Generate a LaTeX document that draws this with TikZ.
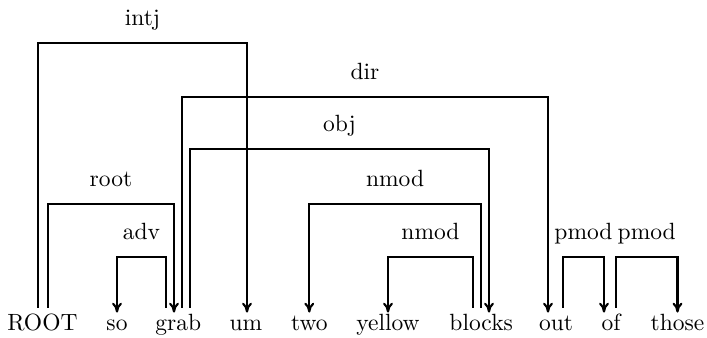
\documentclass[tikz,border=0pt]{standalone}
\usetikzlibrary{calc,arrows.meta}
\begin{document}
\begin{tikzpicture}[x=0.4255pt,y=-0.4255pt,
  word/.style={anchor=base,inner sep=0pt,text height=7pt,text depth=2pt},
  dep/.style={line width=0.9pt,-{To[length=4.2pt,width=4.2pt]}},
  lbl/.style={anchor=base,inner sep=0pt,yshift=7.2pt}]
\useasboundingbox (0,0) rectangle (707,338);
\node[word] (w0) at (42.4,331) {ROOT};
\node[word] (w1) at (117,331) {so};
\node[word] (w2) at (178.2,331) {grab};
\node[word] (w3) at (246,331) {um};
\node[word] (w4) at (309.3,331) {two};
\node[word] (w5) at (388,331) {yellow};
\node[word] (w6) at (481.2,331) {blocks};
\node[word] (w7) at (556,331) {out};
\node[word] (w8) at (611,331) {of};
\node[word] (w9) at (677.5,331) {those};
% intj
\draw[dep] ($(w0.north)+(-4.4,-6.5)$) -- ++(0,-265) -| ($(w3.north)+(1,-1.5)$) node[pos=0.25,lbl] {intj};
% dir
\draw[dep] ($(w2.north)+(3.8,-6.5)$) -- ++(0,-211) -| ($(w7.north)+(-8,-1.5)$) node[pos=0.25,lbl] {dir};
% obj
\draw[dep] ($(w2.north)+(11.8,-6.5)$) -- ++(0,-159) -| ($(w6.north)+(7.8,-1.5)$) node[pos=0.25,lbl] {obj};
% root
\draw[dep] ($(w0.north)+(5.6,-6.5)$) -- ++(0,-104) -| ($(w2.north)+(-4.2,-1.5)$) node[pos=0.25,lbl] {root};
% nmod outer
\draw[dep] ($(w6.north)+(-0.2,-6.5)$) -- ++(0,-104) -| ($(w4.north)+(0,-1.5)$) node[pos=0.25,lbl] {nmod};
% adv
\draw[dep] ($(w2.north)+(-12.2,-6.5)$) -- ++(0,-51) -| ($(w1.north)+(0,-1.5)$) node[pos=0.25,lbl] {adv};
% nmod inner
\draw[dep] ($(w6.north)+(-8.2,-6.5)$) -- ++(0,-51) -| ($(w5.north)+(0,-1.5)$) node[pos=0.25,lbl] {nmod};
% pmod out -> of
\draw[dep] ($(w7.north)+(7,-6.5)$) -- ++(0,-51) -| ($(w8.north)+(-7,-1.5)$) node[pos=0.25,lbl] {pmod};
% pmod of -> those
\draw[dep] ($(w8.north)+(5,-6.5)$) -- ++(0,-51) -| ($(w9.north)+(0,-1.5)$) node[pos=0.25,lbl] {pmod};
\end{tikzpicture}
\end{document}
